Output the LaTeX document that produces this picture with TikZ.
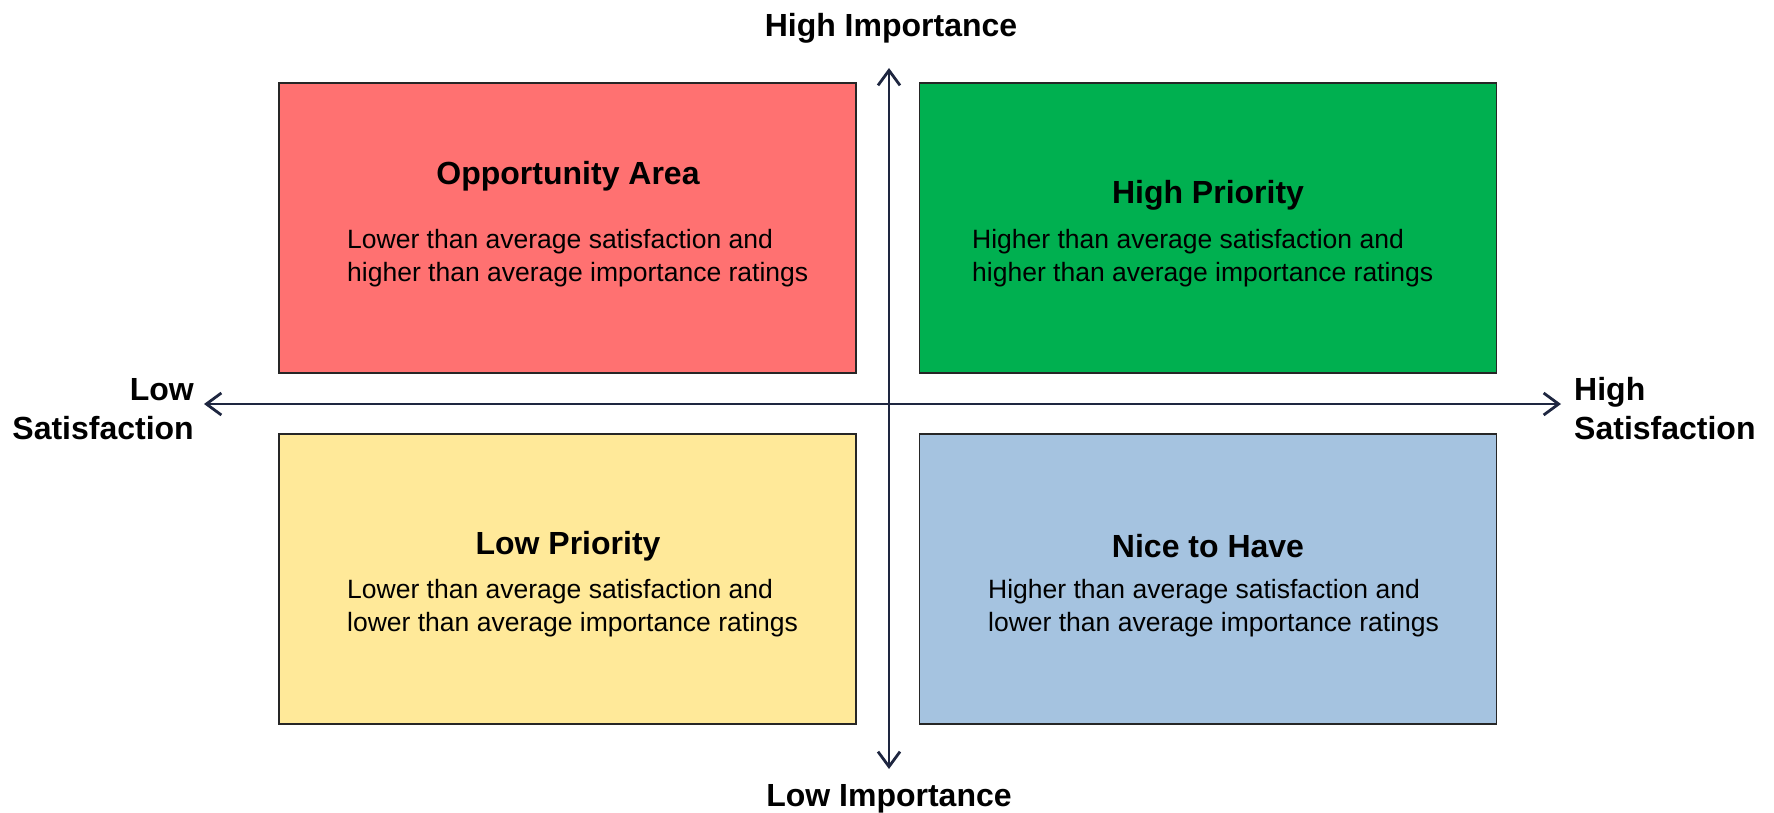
\documentclass[tikz,border=0pt]{standalone}
\usepackage{fontspec}
\setmainfont{Liberation Sans}
\usetikzlibrary{arrows.meta}

\definecolor{opportunityred}{HTML}{FF7171}
\definecolor{prioritygreen}{HTML}{00B050}
\definecolor{lowyellow}{HTML}{FFE999}
\definecolor{niceblue}{HTML}{A5C3E0}
\definecolor{axisnavy}{HTML}{1E2640}

\tikzset{
    quadrant/.style={draw=black!85, line width=1.2pt, minimum width=577pt, minimum height=290pt, inner sep=0pt},
    quadtitle/.style={font=\fontsize{32}{38}\selectfont\bfseries, inner sep=0pt},
    quadtext/.style={font=\fontsize{26.5}{32.5}\selectfont, align=left, anchor=west, inner sep=0pt},
    axislabel/.style={font=\fontsize{32}{39}\selectfont\bfseries, inner sep=0pt},
    axisline/.style={draw=axisnavy, line width=2.8pt, {Straight Barb[length=15pt,width=22pt,line width=2.8pt]}-{Straight Barb[length=15pt,width=22pt,line width=2.8pt]}}
}

\begin{document}
\begin{tikzpicture}[x=1pt, y=-1pt]
    \useasboundingbox (0,0) rectangle (1774,813);

    \node[quadrant, fill=opportunityred] (opportunity) at (567.5,228) {};
    \node[quadrant, fill=prioritygreen] (highpriority) at (1208,228) {};
    \node[quadrant, fill=lowyellow] (lowpriority) at (567.5,579) {};
    \node[quadrant, fill=niceblue] (nicetohave) at (1208,579) {};

    \node[quadtitle] (opportunitytitle) at (568,176.5) {Opportunity Area};
    \node[quadtext] (opportunitytext) at (347,258) {Lower than average satisfaction and\\higher than average importance ratings};

    \node[quadtitle] (highprioritytitle) at (1208,195.5) {High Priority};
    \node[quadtext] (highprioritytext) at (972,258) {Higher than average satisfaction and\\higher than average importance ratings};

    \node[quadtitle] (lowprioritytitle) at (568,546.5) {Low Priority};
    \node[quadtext] (lowprioritytext) at (347,608) {Lower than average satisfaction and\\lower than average importance ratings};

    \node[quadtitle] (nicetohavetitle) at (1208,546.5) {Nice to Have};
    \node[quadtext] (nicetohavetext) at (988,608) {Higher than average satisfaction and\\lower than average importance ratings};

    \coordinate (importancetop) at (889,68);
    \coordinate (importancebottom) at (889,769);
    \coordinate (satisfactionleft) at (204,404);
    \coordinate (satisfactionright) at (1561,404);

    \draw[axisline] (importancebottom) -- (importancetop);
    \draw[axisline] (satisfactionleft) -- (satisfactionright);

    \node[axislabel] (highimportance) at (891,28.5) {High Importance};
    \node[axislabel] (lowimportance) at (889,799) {Low Importance};
    \node[axislabel, align=right, anchor=east] (lowsatisfaction) at (194,409) {Low\\Satisfaction};
    \node[axislabel, align=left, anchor=west] (highsatisfaction) at (1574,409) {High\\Satisfaction};
\end{tikzpicture}
\end{document}
